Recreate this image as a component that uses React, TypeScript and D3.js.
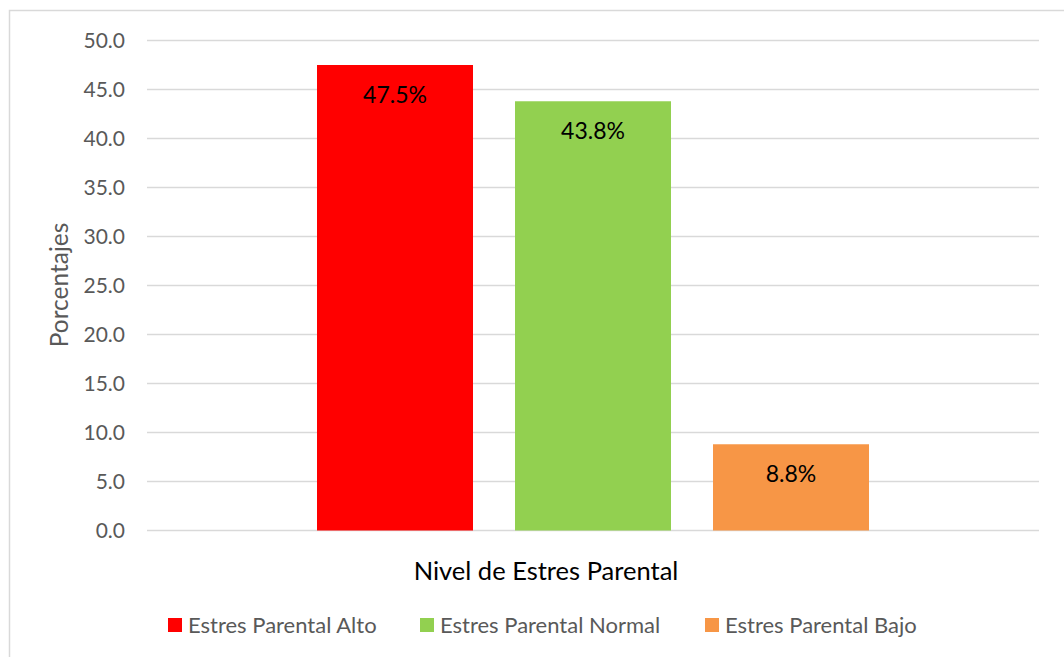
import React from "react";
import * as d3 from "d3";

const categories = ["Nivel de Estres Parental"];
const seriesNames = ["Estres Parental Alto", "Estres Parental Normal", "Estres Parental Bajo"];
const seriesValues = [47.5, 43.8, 8.8];
const seriesColors = ["#FF0000", "#92D050", "#F79646"];
const yTicks = [0, 5, 10, 15, 20, 25, 30, 35, 40, 45, 50];

const W = 1064;
const H = 657;
const FONT = "Lato, 'Open Sans', sans-serif";

export default function App() {
  const left = 147, right = 1039, top = 40.5, bottom = 530.5;
  const y = d3.scaleLinear().domain([0, 50]).range([bottom, top]);
  const x0 = d3.scaleBand().domain(categories).range([left, right]).paddingInner(0).paddingOuter(0);
  const catW = x0.bandwidth();
  const groupW = 552;
  const x1 = d3
    .scaleBand()
    .domain(seriesNames)
    .range([0, groupW])
    .paddingInner(42 / 198)
    .paddingOuter(0);
  const gx = (x0(categories[0]) as number) + (catW - groupW) / 2;

  const legendX = [168, 420, 705];

  return (
    <svg
      width={W}
      height={H}
      style={{ position: "absolute", left: 0, top: 0, background: "#fff" }}
      fontFamily={FONT}
    >
      <rect x={9.5} y={10.5} width={W + 10} height={H + 10} fill="#fff" stroke="#D9D9D9" strokeWidth={1.5} />
      {yTicks.map((t) => (
        <g key={t}>
          <line x1={left} x2={right} y1={y(t)} y2={y(t)} stroke="#D9D9D9" strokeWidth={1.5} />
          <text x={125} y={y(t)} dy="0.35em" textAnchor="end" fontSize={21} fill="#595959">
            {t.toFixed(1)}
          </text>
        </g>
      ))}
      {seriesNames.map((s, i) => {
        const bx = gx + (x1(s) as number);
        const bw = x1.bandwidth();
        const v = seriesValues[i];
        return (
          <g key={s}>
            <rect x={bx} y={y(v)} width={bw} height={y(0) - y(v)} fill={seriesColors[i]} />
            <text x={bx + bw / 2} y={y(v) + 38} textAnchor="middle" fontSize={23} fill="#000">
              {v.toFixed(1)}%
            </text>
          </g>
        );
      })}
      <text
        transform={`translate(68,285) rotate(-90)`}
        textAnchor="middle"
        fontSize={24.5}
        fill="#595959"
      >
        Porcentajes
      </text>
      <text x={546} y={580} textAnchor="middle" fontSize={25.5} fill="#000">
        {categories[0]}
      </text>
      {seriesNames.map((s, i) => (
        <g key={s}>
          <rect x={legendX[i]} y={618} width={14} height={14} fill={seriesColors[i]} />
          <text x={legendX[i] + 20} y={633} fontSize={22} fill="#595959">
            {s}
          </text>
        </g>
      ))}
    </svg>
  );
}
